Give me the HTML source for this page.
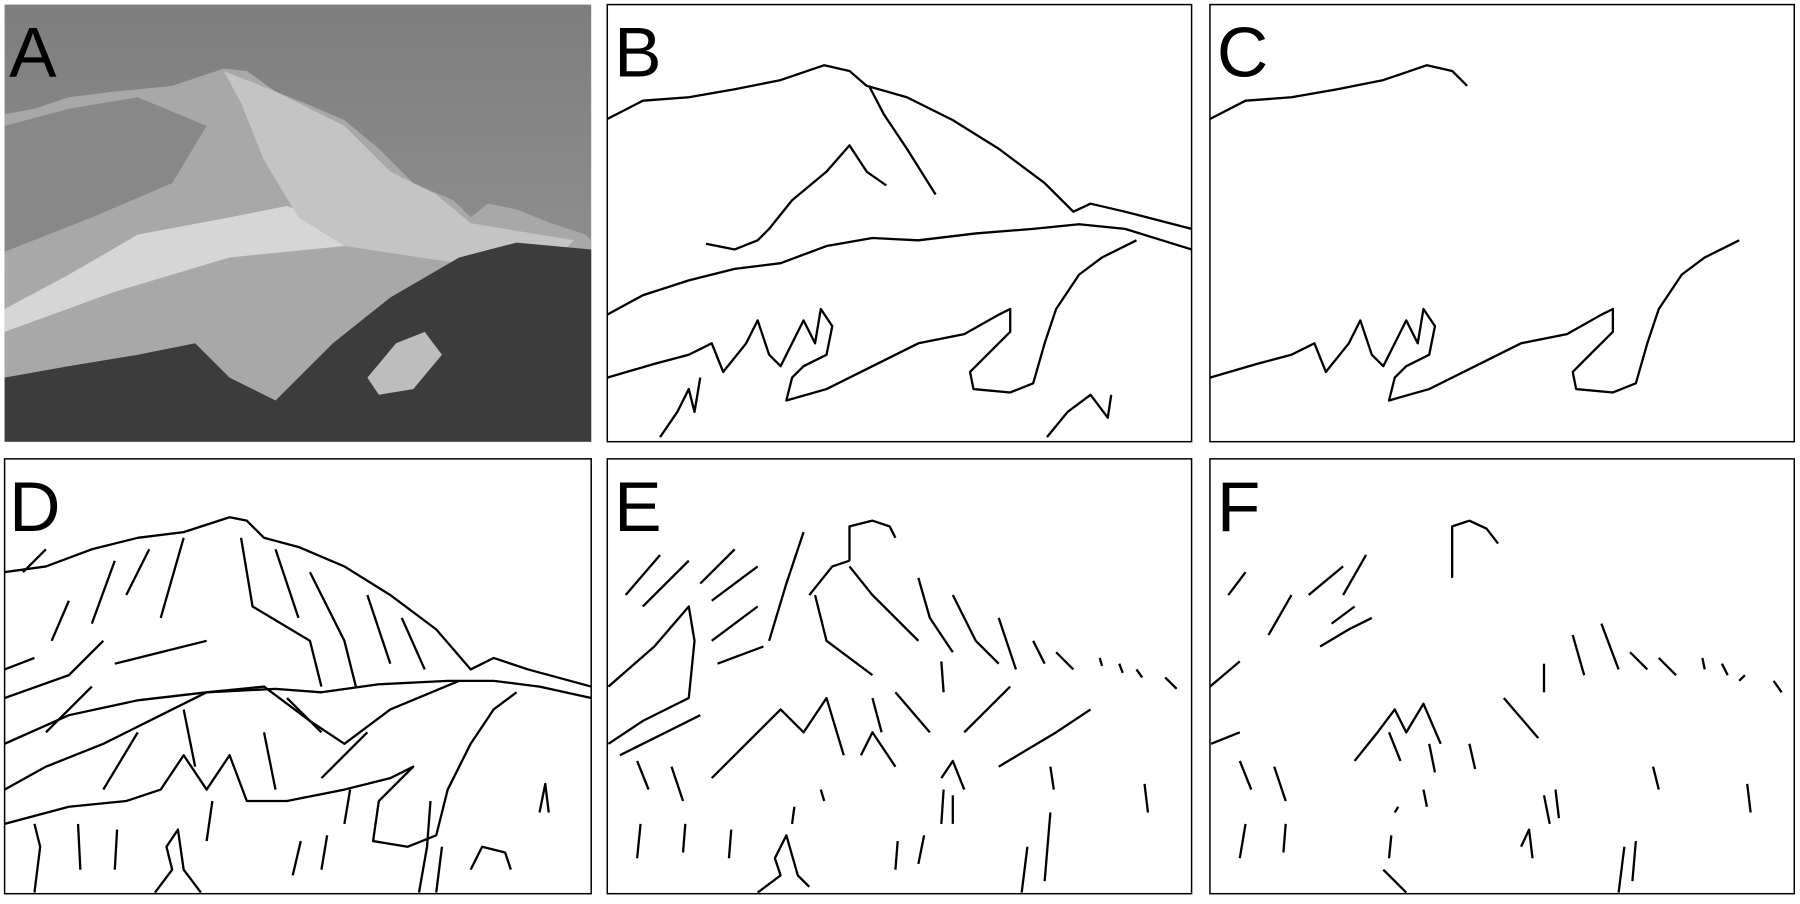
<!DOCTYPE html>
<html><head><meta charset="utf-8"><style>
html,body{margin:0;padding:0;background:#fff;}
svg{display:block;}
</style></head><body>
<svg width="1800" height="904" viewBox="0 0 1568 790" preserveAspectRatio="none" xmlns="http://www.w3.org/2000/svg">
<rect width="1568" height="790" fill="#fff"/>
<!-- Panel A photo -->
<defs><linearGradient id="sky" x1="0" y1="0" x2="0" y2="1"><stop offset="0" stop-color="#7e7e7e"/><stop offset="1" stop-color="#9a9a9a"/></linearGradient></defs>
<rect x="4" y="4" width="511" height="382" fill="url(#sky)"/>
<polygon fill="#a8a8a8" points="4,100 30,95 60,85 100,80 150,75 195,60 215,62 240,80 270,92 300,105 330,130 360,160 395,175 410,190 425,178 450,183 480,195 510,205 515,210 515,386 4,386"/>
<polygon fill="#d6d6d6" points="4,270 60,240 120,205 200,190 250,180 290,195 300,215 200,225 100,255 4,290"/>
<polygon fill="#c4c4c4" points="195,62 240,80 300,110 340,150 380,170 410,195 440,200 500,210 480,230 400,230 300,215 260,190 230,140 210,90"/>
<polygon fill="#888" points="4,110 60,95 120,85 180,110 150,160 80,190 4,220"/>
<polygon fill="#3c3c3c" points="4,330 60,320 120,310 170,300 200,330 240,350 290,300 340,260 400,225 450,212 515,218 515,386 4,386"/>
<polygon fill="#bdbdbd" points="320,330 345,300 370,290 385,310 360,340 330,345"/>
<text x="8" y="67" font-family="Liberation Sans, sans-serif" font-size="62" fill="#000">A</text>
<g fill="none" stroke="#000" stroke-width="1.3">
<rect x="529" y="4" width="509" height="382"/>
<rect x="1054" y="4" width="509" height="382"/>
<rect x="4" y="401" width="511" height="380"/>
<rect x="529" y="401" width="509" height="380"/>
<rect x="1054" y="401" width="509" height="380"/>
</g>
<g font-family="Liberation Sans, sans-serif" font-size="62" fill="#000">
<text x="535" y="67">B</text><text x="1060" y="67">C</text>
<text x="8" y="464">D</text><text x="535" y="464">E</text><text x="1060" y="464">F</text>
</g>
<!-- B -->
<g fill="none" stroke="#000" stroke-width="2" stroke-linejoin="round">
<polyline points="529,104 560,88 600,85 640,78 680,70 718,57 740,62 755,75 790,85 830,105 870,130 910,160 935,185 950,178 980,185 1038,200"/>
<polyline points="757,75 770,100 790,130 815,170"/>
<polyline points="615,213 640,218 660,210 670,200 690,175 720,150 740,127 755,150 772,162"/>
<polyline points="529,275 560,258 600,245 640,235 680,230 720,215 760,208 800,210 850,204 900,200 940,196 980,200 1038,218"/>
<polyline points="529,330 570,318 600,310 620,300 630,325 650,300 660,280 670,310 680,320 690,300 700,280 710,300 715,270 725,285 720,310 700,320 690,330 685,350 720,340 760,320 800,300 840,292 870,275 880,270 880,290 860,310 845,325 848,340 880,343 900,335 910,300 920,270 940,240 960,225 990,210"/>
<polyline points="575,382 590,360 600,340 605,360 610,330"/>
<polyline points="912,382 930,360 950,345 965,365 968,345"/>
</g>
<!-- C -->
<g fill="none" stroke="#000" stroke-width="2" stroke-linejoin="round">
<polyline points="1054,104 1085,88 1125,85 1165,78 1205,70 1243,57 1265,62 1278,75"/>
<polyline points="1054,330 1095,318 1125,310 1145,300 1155,325 1175,300 1185,280 1195,310 1205,320 1215,300 1225,280 1235,300 1240,270 1250,285 1245,310 1225,320 1215,330 1210,350 1245,340 1285,320 1325,300 1365,292 1395,275 1405,270 1405,290 1385,310 1370,325 1373,340 1405,343 1425,335 1435,300 1445,270 1465,240 1485,225 1515,210"/>
</g>
<!-- D -->
<g fill="none" stroke="#000" stroke-width="2" stroke-linejoin="round">
<polyline points="4,500 40,495 80,480 120,470 160,465 200,452 215,455 230,470 260,478 300,495 340,520 380,550 410,585 430,575 460,585 515,600"/>
<polyline points="4,650 60,625 120,612 180,605 240,602 280,605 330,598 390,595 430,595 470,600 515,610"/>
<polyline points="4,690 40,670 90,650 140,625 180,605 230,600 270,630 300,650 340,620 400,595"/>
<polyline points="4,720 60,705 110,700 140,690 160,660 180,690 200,660 215,700 250,700 300,690 340,680 360,670 330,700 325,735 355,740 380,730 390,690 410,650 430,620 450,605"/>
<polyline points="20,500 40,480"/><polyline points="60,525 45,560"/><polyline points="100,490 80,545"/><polyline points="130,480 110,520"/>
<polyline points="160,470 140,540"/><polyline points="210,470 220,530 270,560 280,600"/><polyline points="240,480 260,540"/>
<polyline points="270,500 300,560 310,600"/><polyline points="320,520 340,580"/><polyline points="350,540 370,585"/>
<polyline points="4,585 30,575"/><polyline points="4,610 60,590 90,560"/><polyline points="100,580 140,570 180,560"/>
<polyline points="40,640 80,600"/><polyline points="90,690 120,640"/><polyline points="160,620 170,670"/>
<polyline points="230,640 240,690"/><polyline points="280,680 320,640"/><polyline points="250,610 280,640"/>
<polyline points="30,780 35,740 30,720"/><polyline points="70,760 68,720"/><polyline points="100,760 102,725"/>
<polyline points="135,780 150,760 145,740 155,725 160,760 175,780"/><polyline points="255,765 262,735"/>
<polyline points="280,760 285,730"/><polyline points="365,780 372,740 375,700"/><polyline points="380,780 385,740"/>
<polyline points="410,760 420,740 440,745 445,760"/><polyline points="470,710 475,685 478,710"/>
<polyline points="300,720 305,690"/><polyline points="180,735 185,700"/>
</g>
<!-- E -->
<g fill="none" stroke="#000" stroke-width="2" stroke-linejoin="round">
<polyline points="740,490 740,460 760,455 775,460 780,470"/>
<polyline points="705,520 725,495 740,490"/><polyline points="700,465 685,510 670,560"/>
<polyline points="710,520 720,560 760,590"/><polyline points="740,495 760,520 780,540 800,560"/>
<polyline points="800,505 810,540 830,570"/><polyline points="830,520 850,560 870,580"/><polyline points="870,540 885,585"/>
<polyline points="900,560 910,580"/><polyline points="920,570 935,585"/><polyline points="958,575 960,582"/>
<polyline points="975,580 978,588"/><polyline points="990,585 995,592"/><polyline points="1015,592 1025,602"/>
<polyline points="545,520 575,485"/><polyline points="560,530 600,490"/><polyline points="610,510 640,480"/><polyline points="620,525 660,495"/>
<polyline points="530,600 570,565 600,530 605,560 600,610 560,630 530,650"/><polyline points="620,560 660,530"/><polyline points="625,580 665,565"/>
<polyline points="540,660 580,640 610,625"/><polyline points="820,578 822,605"/><polyline points="760,610 768,640"/>
<polyline points="780,605 810,640"/><polyline points="840,640 880,600"/><polyline points="870,670 920,640 950,620"/>
<polyline points="620,680 660,640 680,620 700,640 720,610 735,660"/><polyline points="750,660 760,640 780,670"/>
<polyline points="555,665 565,690"/><polyline points="585,670 595,700"/><polyline points="820,680 830,665 840,690"/>
<polyline points="915,670 918,690"/><polyline points="997,685 1000,710"/><polyline points="715,690 718,700"/>
<polyline points="555,750 558,720"/><polyline points="595,745 597,720"/><polyline points="635,750 637,725"/>
<polyline points="690,720 692,705"/><polyline points="780,760 782,735"/><polyline points="800,755 805,730"/>
<polyline points="820,720 822,690"/><polyline points="830,720 830,695"/><polyline points="890,780 895,740"/>
<polyline points="910,770 915,710"/><polyline points="660,780 680,765 675,750 685,730 695,765 705,775"/>
</g>
<!-- F -->
<g fill="none" stroke="#000" stroke-width="2" stroke-linejoin="round">
<polyline points="1265,505 1265,460 1280,455 1295,462 1305,475"/>
<polyline points="1070,520 1085,500"/><polyline points="1105,555 1125,520"/><polyline points="1140,520 1170,495"/>
<polyline points="1170,520 1190,485"/><polyline points="1150,565 1175,550 1195,540"/><polyline points="1160,545 1180,530"/>
<polyline points="1054,600 1080,578"/><polyline points="1055,650 1080,640"/><polyline points="1370,555 1380,590"/>
<polyline points="1395,545 1410,585"/><polyline points="1420,570 1435,585"/><polyline points="1445,575 1460,590"/>
<polyline points="1483,575 1485,585"/><polyline points="1500,580 1505,590"/><polyline points="1515,595 1520,590"/>
<polyline points="1545,595 1552,605"/><polyline points="1345,580 1345,605"/><polyline points="1310,610 1340,645"/>
<polyline points="1180,665 1200,640 1215,620 1225,640 1240,615 1255,650"/><polyline points="1210,640 1220,665"/>
<polyline points="1245,650 1250,675"/><polyline points="1280,650 1285,672"/>
<polyline points="1080,665 1090,690"/><polyline points="1110,670 1120,700"/><polyline points="1240,690 1243,705"/>
<polyline points="1345,695 1350,720"/><polyline points="1355,690 1358,715"/><polyline points="1440,670 1445,690"/>
<polyline points="1522,685 1525,710"/><polyline points="1080,750 1085,720"/><polyline points="1118,745 1120,720"/>
<polyline points="1210,750 1212,730"/><polyline points="1215,710 1218,705"/><polyline points="1325,740 1332,725 1335,750"/>
<polyline points="1410,780 1415,740"/><polyline points="1422,770 1425,735"/>
<polyline points="1205,760 1215,770 1225,780"/>
</g>
</svg>
</body></html>
